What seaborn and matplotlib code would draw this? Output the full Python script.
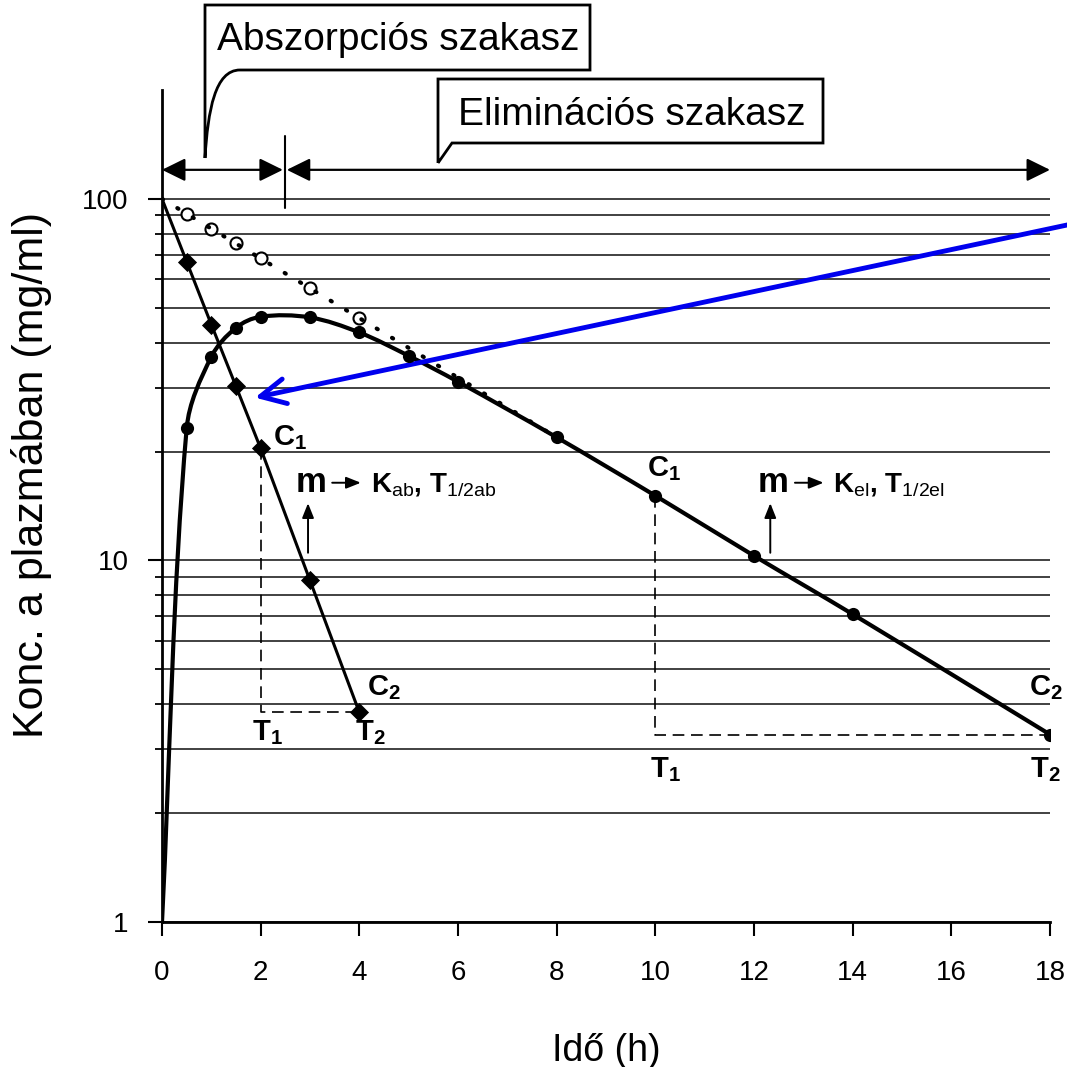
import numpy as np
import matplotlib
matplotlib.use("Agg")
import matplotlib.pyplot as plt
from matplotlib.path import Path
from matplotlib.patches import PathPatch
from matplotlib.ticker import NullFormatter
import seaborn as sns

# Plasma concentration after an oral dose (mg/ml)
t_plasma = [0, 0.5, 1, 1.5, 2, 3, 4, 5, 6, 8, 10, 12, 14, 18]
c_plasma = [1, 23.2, 36.6, 44, 47.2, 47, 42.7, 36.8, 31.2, 21.9, 15.1, 10.3, 7.1, 3.3]

# Back-extrapolated elimination line and its points
t_extra = [0.5, 1, 1.5, 2, 3, 4]
c_extra = [91, 82.6, 75.6, 68.7, 56.8, 46.9]
t_extra_line = [0, 8]
c_extra_line = [100, 21.9]

# Residuals (absorption phase)
t_resid = [0, 0.5, 1, 1.5, 2, 3, 4]
c_resid = [100, 67, 44.9, 30.3, 20.4, 8.8, 3.8]

x_ticks = [0, 2, 4, 6, 8, 10, 12, 14, 16, 18]
y_major = [1, 10, 100]
y_major_labels = ["1", "10", "100"]
y_minor = [2, 3, 4, 5, 6, 7, 8, 9, 20, 30, 40, 50, 60, 70, 80, 90]

sns.set_theme(style="white")
plt.rcParams["font.family"] = ["Liberation Sans", "DejaVu Sans"]
plt.rcParams.update({
    "text.color": "black",
    "axes.labelcolor": "black",
    "xtick.color": "black",
    "ytick.color": "black",
    "mathtext.fontset": "custom",
    "mathtext.rm": "Liberation Sans",
    "mathtext.bf": "Liberation Sans:bold",
    "mathtext.it": "Liberation Sans:italic",
    "mathtext.sf": "Liberation Sans",
})

W = 1067
fig = plt.figure(figsize=(W / 100, W / 100), dpi=100)
fig.patch.set_facecolor("white")
ax = fig.add_axes([162 / W, 145 / W, 888 / W, 832 / W])
ax.set_yscale("log")
ax.set_xlim(0, 18)
ax.set_ylim(1, 200)


def fig_xy(x, y):
    """Pixel position (origin top-left) -> figure fraction."""
    return (x / W, 1 - y / W)


# --- grid ---------------------------------------------------------------
ax.set_yticks(y_major)
ax.set_yticklabels(y_major_labels)
ax.set_yticks(y_minor, minor=True)
ax.yaxis.set_minor_formatter(NullFormatter())
ax.yaxis.grid(True, which="both", color="#333333", lw=1.3, zorder=0)
ax.xaxis.grid(False)

# --- smooth plasma curve: Bezier through the samples, built on screen ---
pts = ax.transData.transform(np.column_stack([t_plasma, c_plasma]))
n = len(pts)
tang = []
for i in range(n):
    d = pts[min(i + 1, n - 1)] - pts[max(i - 1, 0)]
    tang.append(d / np.hypot(*d))
verts = [pts[0]]
codes = [Path.MOVETO]
for i in range(n - 1):
    h = np.hypot(*(pts[i + 1] - pts[i])) / 3
    verts += [pts[i] + tang[i] * h, pts[i + 1] - tang[i + 1] * h, pts[i + 1]]
    codes += [Path.CURVE4] * 3
verts = ax.transData.inverted().transform(np.array(verts))
ax.add_patch(PathPatch(Path(verts, codes), fill=False, lw=3, ec="black",
                       zorder=3, joinstyle="round", capstyle="round"))
sns.scatterplot(x=t_plasma[1:], y=c_plasma[1:], marker="o", s=90,
                color="black", edgecolor="black", linewidth=0, ax=ax, zorder=4)

# --- residual line with diamonds ---------------------------------------
sns.lineplot(x=t_resid, y=c_resid, color="black", lw=2.2, ax=ax, zorder=3)
sns.scatterplot(x=t_resid[1:], y=c_resid[1:], marker="D", s=95,
                color="black", edgecolor="black", linewidth=0, ax=ax, zorder=4)

# --- extrapolated elimination line -------------------------------------
sns.scatterplot(x=t_extra, y=c_extra, marker="o", s=75, color="white",
                edgecolor="black", linewidth=1.5, ax=ax, zorder=4)
ax.plot(t_extra_line, c_extra_line, color="black", lw=3.0,
        linestyle=(0, (0.3, 4.0)), dash_capstyle="round", zorder=5)

# --- dashed construction lines -----------------------------------------
dash = dict(color="black", lw=1.2, linestyle=(0, (7, 4)), zorder=2)
ax.plot([t_resid[4], t_resid[4], t_resid[6]],
        [c_resid[4], c_resid[6], c_resid[6]], **dash)
ax.plot([t_plasma[10], t_plasma[10], t_plasma[13]],
        [c_plasma[10], c_plasma[13], c_plasma[13]], **dash)

# --- labels C1, C2, T1, T2 ---------------------------------------------
lab = dict(fontsize=21, ha="left", va="baseline", zorder=6)
ax.text(2.25, 20.8, r"$\mathbf{C}_\mathbf{1}$", **lab)
ax.text(4.16, 4.24, r"$\mathbf{C}_\mathbf{2}$", **lab)
ax.text(1.82, 3.18, r"$\mathbf{T}_\mathbf{1}$", **lab)
ax.text(3.91, 3.18, r"$\mathbf{T}_\mathbf{2}$", **lab)
ax.text(9.83, 17.1, r"$\mathbf{C}_\mathbf{1}$", **lab)
ax.text(17.58, 4.24, r"$\mathbf{C}_\mathbf{2}$", **lab)
ax.text(9.89, 2.52, r"$\mathbf{T}_\mathbf{1}$", **lab)
ax.text(17.6, 2.52, r"$\mathbf{T}_\mathbf{2}$", **lab)

# slope -> rate constant, half-life
small_arrow = dict(arrowstyle="-|>,head_length=0.55,head_width=0.22",
                   color="black", lw=1.4, mutation_scale=16,
                   shrinkA=0, shrinkB=0)
for x_m, x_a0, x_a1, x_k, sub in [(2.70, 3.45, 4.03, 4.24, "ab"),
                                   (12.08, 12.83, 13.41, 13.61, "el")]:
    ax.text(x_m, 15.5, "m", fontsize=25, fontweight="bold",
            ha="left", va="baseline")
    ax.annotate("", xy=(x_a1, 16.4), xytext=(x_a0, 16.4), arrowprops=small_arrow)
    ax.text(x_k, 15.5,
            r"$\mathbf{K}_\mathrm{%s}\mathbf{,}\ \mathbf{T}_\mathrm{1/2%s}$" % (sub, sub),
            fontsize=20, ha="left", va="baseline")

ax.annotate("", xy=(2.96, 14.4), xytext=(2.96, 10.5), arrowprops=small_arrow)
ax.annotate("", xy=(12.33, 14.4), xytext=(12.33, 10.5), arrowprops=small_arrow)

# --- phase arrows at the top -------------------------------------------
two = dict(arrowstyle="<|-|>,head_length=0.65,head_width=0.32", color="black",
           lw=1.6, mutation_scale=22, shrinkA=0, shrinkB=0)
ax.annotate("", xy=(0, 120.3), xytext=(2.45, 120.3), arrowprops=two,
            annotation_clip=False)
ax.annotate("", xy=(2.53, 120.3), xytext=(18, 120.3), arrowprops=two,
            annotation_clip=False)
ax.plot([2.5, 2.5], [149, 94.4], color="black", lw=1.5, clip_on=False, zorder=5)

# --- callout boxes -----------------------------------------------------
box1 = Path([fig_xy(205, 158), fig_xy(205, 5), fig_xy(590, 5), fig_xy(590, 70),
             fig_xy(240, 70), fig_xy(215, 70), fig_xy(208, 110), fig_xy(205, 158)],
            [Path.MOVETO, Path.LINETO, Path.LINETO, Path.LINETO, Path.LINETO,
             Path.CURVE4, Path.CURVE4, Path.CURVE4])
fig.add_artist(PathPatch(box1, transform=fig.transFigure, fc="white",
                         ec="black", lw=2, joinstyle="miter"))
fig.text(*fig_xy(398, 50), "Abszorpciós szakasz", fontsize=28,
         ha="center", va="baseline")

box2 = Path([fig_xy(438, 163), fig_xy(438, 79), fig_xy(823, 79), fig_xy(823, 143),
             fig_xy(452, 143), fig_xy(438, 163)],
            [Path.MOVETO, Path.LINETO, Path.LINETO, Path.LINETO, Path.LINETO,
             Path.LINETO])
fig.add_artist(PathPatch(box2, transform=fig.transFigure, fc="white",
                         ec="black", lw=2, joinstyle="miter"))
fig.text(*fig_xy(632, 125), "Eliminációs szakasz", fontsize=28,
         ha="center", va="baseline")

# --- blue pointer ------------------------------------------------------
ax.annotate("", xy=(1.885, 28.2), xycoords="data",
            xytext=(1100, W - 218), textcoords="figure pixels",
            arrowprops=dict(arrowstyle="->,head_length=0.6,head_width=0.3",
                            color="#0000EE", lw=3.5, mutation_scale=30,
                            shrinkA=0, shrinkB=0),
            annotation_clip=False)

# --- axes styling ------------------------------------------------------
ax.set_xticks(x_ticks)
for side in ("top", "right"):
    ax.spines[side].set_visible(False)
for side in ("left", "bottom"):
    ax.spines[side].set_color("black")
    ax.spines[side].set_linewidth(2)
ax.tick_params(axis="x", which="major", bottom=True, direction="out",
               length=10, width=1.5, color="black", labelsize=20, pad=17)
ax.tick_params(axis="y", which="major", left=True, direction="out",
               length=10, width=1.5, color="black", labelsize=20, pad=14)
ax.tick_params(axis="y", which="minor", left=True, direction="out",
               length=5, width=1.3, color="black")
ax.set_xlabel("Idő (h)", fontsize=27)
ax.set_ylabel("Konc. a plazmában (mg/ml)", fontsize=31)
ax.xaxis.set_label_coords(0.5, -0.133)
ax.yaxis.set_label_coords(-0.124, 0.537)

fig.savefig("out.png", dpi=100, facecolor="white")
